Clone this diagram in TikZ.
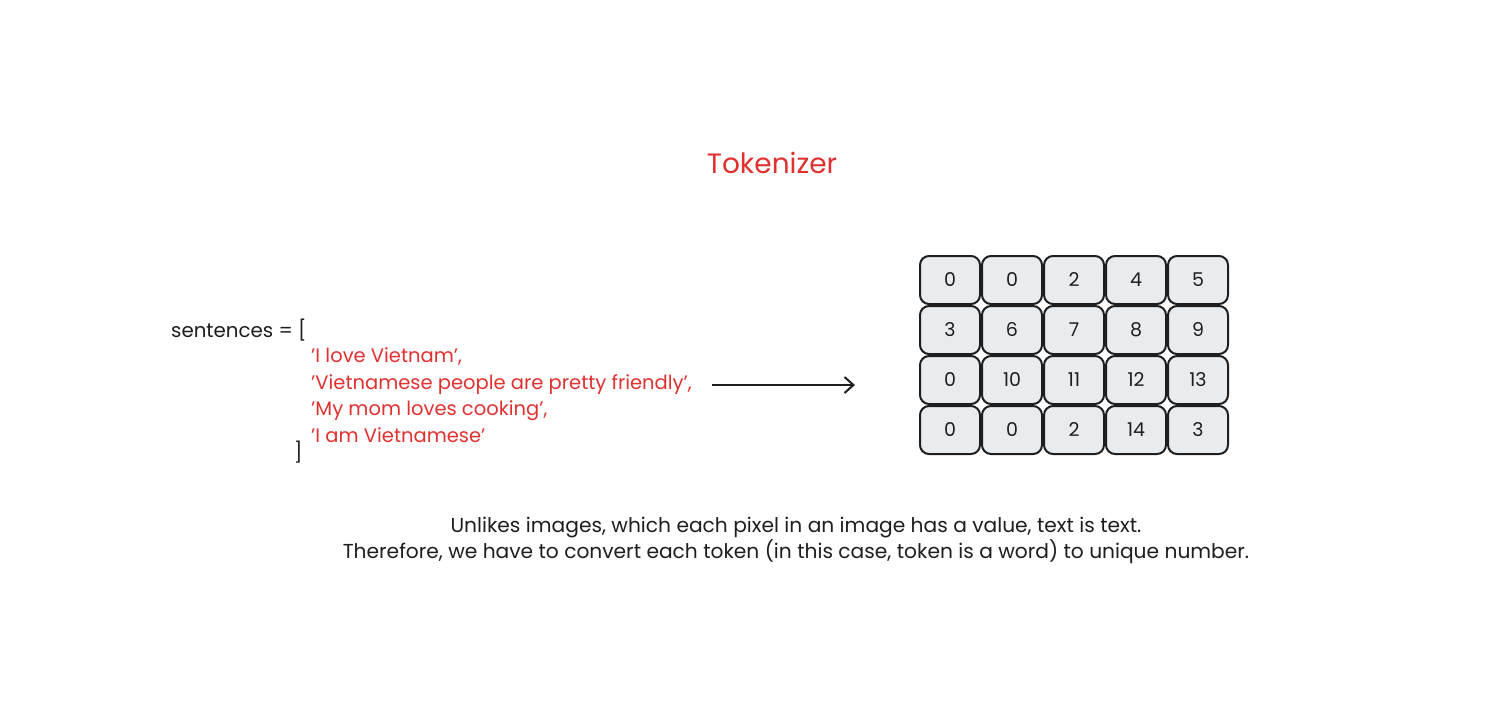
\documentclass[tikz,border=0pt]{standalone}
\usepackage{fontspec}
\setmainfont{Poppins}
\usetikzlibrary{arrows.meta,positioning}
\definecolor{inkred}{HTML}{E03131}
\definecolor{ink}{HTML}{1E1E1E}
\definecolor{cellgray}{HTML}{E9ECEF}
\tikzset{
  cell/.style={draw=ink,fill=cellgray,line width=2pt,rounded corners=9pt,
    minimum width=60pt,minimum height=48pt,inner sep=0pt,font=\fontsize{19}{22}\selectfont,text=ink},
  code/.style={anchor=base west,inner sep=0pt,text=ink,font=\fontsize{19.8}{22}\selectfont},
  redcode/.style={code,text=inkred,font=\fontsize{19.5}{22}\selectfont},
  note/.style={align=center,inner sep=0pt,text=ink,font=\fontsize{20.2}{26}\selectfont}
}
\begin{document}
\begin{tikzpicture}[x=1pt,y=-1pt]
    \useasboundingbox (0,0) rectangle (1503,704);
    \fill[white] (0,0) rectangle (1503,704);
    \node[text=inkred,inner sep=0pt,font=\fontsize{28}{32}\selectfont] (title) at (772,163) {Tokenizer};
    % the list of sentences
    \node[code] (open) at (171,337) {sentences = [};
    \node[redcode] (s1) at (311,362) {'I love Vietnam',};
    \node[redcode] (s2) at (311,389) {'Vietnamese people are pretty friendly',};
    \node[redcode] (s3) at (311,415) {'My mom loves cooking',};
    \node[redcode] (s4) at (311,442) {'I am Vietnamese'};
    \node[code] (close) at (294,459) {]};
    % token ids
    \foreach \row [count=\r] in {{0,0,2,4,5},{3,6,7,8,9},{0,10,11,12,13},{0,0,2,14,3}} {
        \foreach \v [count=\c] in \row {
            \node[cell] (c\r\c) at ({888+62*\c},{230+50*\r}) {\v};
        }
    }
    \coordinate (arrS) at (712,385);
    \coordinate (arrE) at (855,385);
    \draw[ink,line width=2pt,-{Straight Barb[length=9pt,width=16pt]}] (arrS) -- (arrE);
    \node[note] (note) at (796,540) {Unlikes images, which each pixel in an image has a value, text is text.\\
        Therefore, we have to convert each token (in this case, token is a word) to unique number.};
\end{tikzpicture}
\end{document}
